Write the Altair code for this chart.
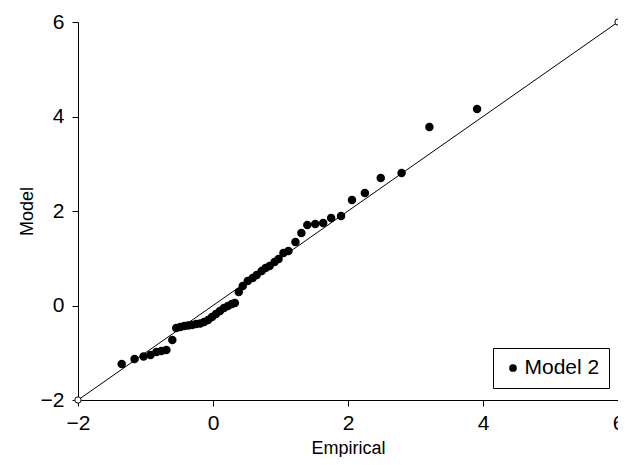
import altair as alt
import pandas as pd

# Empirical vs model quantiles
empirical = [-1.353, -1.162, -1.029, -0.926, -0.838, -0.765, -0.691, -0.603,
             -0.544, -0.485, -0.426, -0.368, -0.309, -0.250, -0.191, -0.132,
             -0.074, -0.015, 0.044, 0.103, 0.162, 0.221, 0.279, 0.324,
             0.382, 0.441, 0.515, 0.588, 0.647, 0.721, 0.779, 0.838,
             0.912, 0.971, 1.044, 1.118, 1.221, 1.309, 1.397, 1.515,
             1.632, 1.750, 1.897, 2.059, 2.250, 2.485, 2.794, 3.206, 3.912]
model = [-1.238, -1.132, -1.079, -1.048, -0.984, -0.963, -0.942, -0.730,
         -0.476, -0.455, -0.434, -0.423, -0.413, -0.392, -0.381, -0.349,
         -0.307, -0.243, -0.180, -0.116, -0.053, -0.011, 0.032, 0.053,
         0.286, 0.413, 0.519, 0.582, 0.646, 0.730, 0.794, 0.836,
         0.921, 0.984, 1.111, 1.153, 1.344, 1.534, 1.704, 1.725,
         1.746, 1.852, 1.894, 2.233, 2.381, 2.698, 2.804, 3.778, 4.159]
series_name = "Model 2"

# Reference line y = x
ref_x = [-2, 6]
ref_y = [-2, 6]

tick_values = [-2, 0, 2, 4, 6]

pts = pd.DataFrame({"Empirical": empirical, "Model": model,
                    "series": [series_name] * len(empirical)})
ref = pd.DataFrame({"Empirical": ref_x, "Model": ref_y})

FONT = "Liberation Sans"

xs = alt.Scale(domain=[-2, 6], nice=False, zero=False)
ys = alt.Scale(domain=[-2, 6], nice=False, zero=False)

x_axis = alt.Axis(values=tick_values, format="d", grid=False, tickSize=6,
                  labelPadding=6, labelFlush=False, labelFontSize=21,
                  titleFontSize=18, titlePadding=6, domainColor="black",
                  tickColor="black", labelColor="black", titleColor="black",
                  titleFontWeight="normal", labelFont=FONT, titleFont=FONT)
y_axis = alt.Axis(values=tick_values, format="d", grid=False, tickSize=6,
                  labelPadding=8, labelFlush=False, labelFontSize=21,
                  titleFontSize=18, titlePadding=4, domainColor="black",
                  tickColor="black", labelColor="black", titleColor="black",
                  titleFontWeight="normal", labelFont=FONT, titleFont=FONT)

line = alt.Chart(ref).mark_line(color="black", strokeWidth=1).encode(
    x=alt.X("Empirical:Q", scale=xs, axis=x_axis, title="Empirical"),
    y=alt.Y("Model:Q", scale=ys, axis=y_axis, title="Model"),
)

ends = alt.Chart(ref).mark_point(shape="circle", filled=False, fill="white",
                                 fillOpacity=1, color="black", size=40,
                                 strokeWidth=1, clip=False).encode(
    x=alt.X("Empirical:Q", scale=xs),
    y=alt.Y("Model:Q", scale=ys),
)

dots = alt.Chart(pts).mark_circle(size=72, opacity=1).encode(
    x=alt.X("Empirical:Q", scale=xs),
    y=alt.Y("Model:Q", scale=ys),
    color=alt.Color("series:N",
                    scale=alt.Scale(domain=[series_name], range=["black"]),
                    legend=alt.Legend(title=None, orient="none",
                                      legendX=415, legendY=326,
                                      strokeColor="black", padding=9.5,
                                      fillColor="white",
                                      labelFontSize=21, labelFont=FONT,
                                      labelColor="black", symbolSize=60,
                                      symbolType="circle", symbolOffset=0,
                                      labelOffset=1)),
)

chart = alt.layer(line, ends, dots).properties(
    width=540, height=378,
    autosize=alt.AutoSizeParams(type="none"),
    padding={"left": 70, "top": 14, "right": 0, "bottom": 57},
).configure_view(stroke=None)

chart.save("out.html", embed_options={"renderer": "svg", "actions": False})
